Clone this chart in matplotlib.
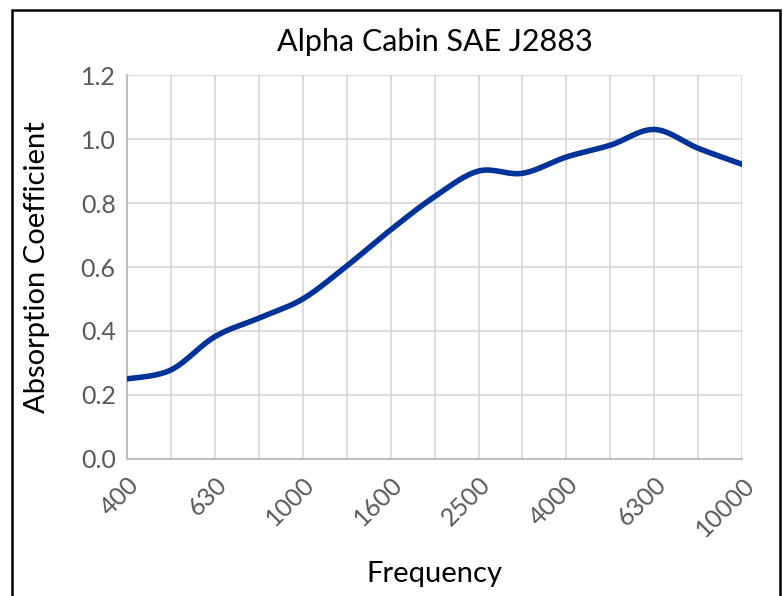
import numpy as np
import matplotlib
matplotlib.use("Agg")
import matplotlib.pyplot as plt
from matplotlib.patches import Rectangle

plt.rcParams['font.family'] = ['Lato', 'DejaVu Sans']

frequencies = ["400", "500", "630", "800", "1000", "1250", "1600", "2000",
               "2500", "3150", "4000", "5000", "6300", "8000", "10000"]
absorption = [0.25, 0.278, 0.382, 0.44, 0.50, 0.603, 0.716, 0.82,
              0.90, 0.893, 0.944, 0.981, 1.03, 0.971, 0.921]
title = "Alpha Cabin SAE J2883"
x_label = "Frequency"
y_label = "Absorption Coefficient"
y_ticks = [0.0, 0.2, 0.4, 0.6, 0.8, 1.0, 1.2]


def smooth(xs, ys, n=30):
    # Excel-like smoothed line: Catmull-Rom style Bezier through points
    xs = np.asarray(xs, float)
    ys = np.asarray(ys, float)
    px, py = [], []
    m = len(xs)
    for i in range(m - 1):
        p0 = (xs[i - 1], ys[i - 1]) if i > 0 else (xs[i], ys[i])
        p1 = (xs[i], ys[i])
        p2 = (xs[i + 1], ys[i + 1])
        p3 = (xs[i + 2], ys[i + 2]) if i + 2 < m else (xs[i + 1], ys[i + 1])
        c1 = (p1[0] + (p2[0] - p0[0]) / 6, p1[1] + (p2[1] - p0[1]) / 6)
        c2 = (p2[0] - (p3[0] - p1[0]) / 6, p2[1] - (p3[1] - p1[1]) / 6)
        t = np.linspace(0, 1, n, endpoint=(i == m - 2))
        b0 = (1 - t) ** 3
        b1 = 3 * (1 - t) ** 2 * t
        b2 = 3 * (1 - t) * t ** 2
        b3 = t ** 3
        px.extend(b0 * p1[0] + b1 * c1[0] + b2 * c2[0] + b3 * p2[0])
        py.extend(b0 * p1[1] + b1 * c1[1] + b2 * c2[1] + b3 * p2[1])
    return np.array(px), np.array(py)


fig = plt.figure(figsize=(7.83, 5.96), dpi=100)
ax = fig.add_axes([0.162, 0.230, 0.786, 0.644])

xpos = np.arange(len(frequencies))
sx, sy = smooth(xpos, absorption)
ax.plot(sx, sy, color="#003399", linewidth=4.0, solid_capstyle="round", zorder=3)

ax.set_xlim(0, len(frequencies) - 1)
ax.set_ylim(0, 1.2)
ax.set_yticks(y_ticks)
ax.set_yticklabels([f"{v:.1f}" for v in y_ticks])
ax.set_xticks(xpos)
ax.set_xticklabels([f if i % 2 == 0 else "" for i, f in enumerate(frequencies)],
                   rotation=45, ha="right", rotation_mode="anchor")

ax.grid(True, color="#D9D9D9", linewidth=1.3, zorder=0)
ax.set_axisbelow(True)
for s in ["top", "right"]:
    ax.spines[s].set_visible(False)
for s in ["left", "bottom"]:
    ax.spines[s].set_color("#BFBFBF")
    ax.spines[s].set_linewidth(1.5)
ax.tick_params(axis="both", length=0, labelcolor="#595959")
ax.tick_params(axis="x", labelsize=18, pad=10)
ax.tick_params(axis="y", labelsize=18, pad=8)

ax.set_title(title, fontsize=22, color="#000000", pad=17)
ax.set_xlabel(x_label, fontsize=21, color="#000000", labelpad=15)
ax.set_ylabel(y_label, fontsize=21, color="#000000", labelpad=22)

# outer chart frame (bottom edge outside the image)
fig.patches.append(Rectangle((12 / 783, -0.05), (780 - 12) / 783, (596 - 10) / 596 + 0.05,
                             transform=fig.transFigure, fill=False,
                             edgecolor="black", linewidth=1.8))

fig.savefig("out.png", dpi=100)
